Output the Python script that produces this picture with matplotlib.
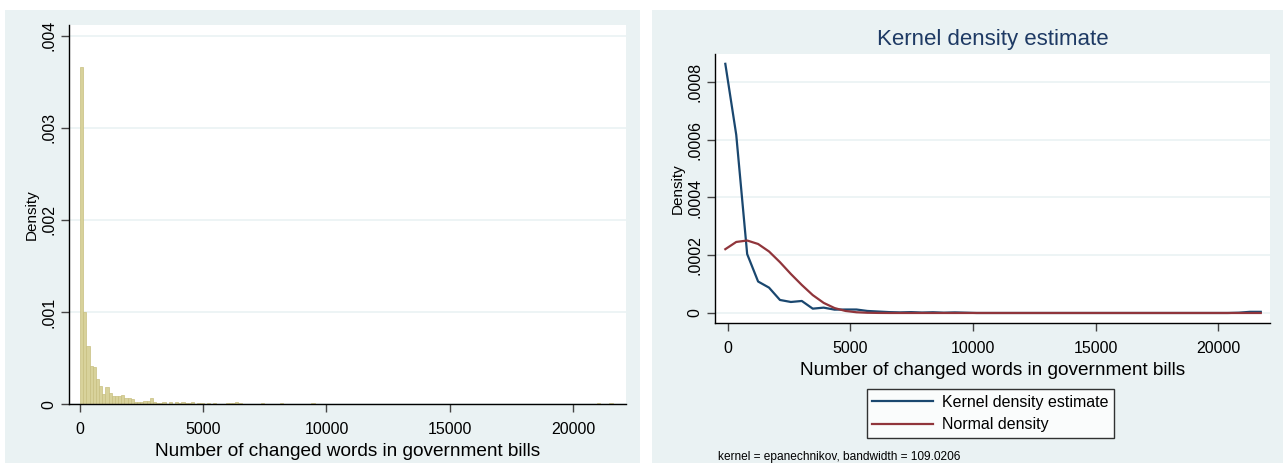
import numpy as np
import matplotlib
matplotlib.use("Agg")
import matplotlib.pyplot as plt
from matplotlib.patches import Rectangle
from matplotlib.lines import Line2D

plt.rcParams['font.family'] = ['Liberation Sans', 'DejaVu Sans']

# histogram: 169 bins of ~128.6 words starting at 0
bin_width = 128.6
n_bins = 169
# heights of the first 52 bins
hist_head = [.003664, .001000, .000635, .000418, .000410, .000273, .000200,
             .000117, .000193, .000128, .000085, .000092, .000092, .000103,
             .000067, .000067, .000056, .000020, .000027, .000030, .000035,
             .000040, .000070, .000030, .000013, .000010, .000025, .000008,
             .000022, .000008, .000022, .000012, .000022, .000015, .000010,
             .000020, .000008, .000012, .000012, .000005, .000015, .000008,
             .000010, .000008, .000005, .000000, .000012, .000010, .000012,
             .000030, .000010, .000000]
# sparse outliers further out
tail_bins = [57, 63, 73, 163, 167]
tail_heights = [.000010, .000010, .000010, .000010, .000010]

# kernel density estimate, 50 evaluation points
kde_lo, kde_hi, kde_n = -109, 21745, 50
kde_vals = [.000863, .000617, .000204, .000109, .0000878, .0000451, .0000381,
            .0000416, .0000150, .0000185, .0000116, .0000120, .0000120,
            .0000070, .0000050, .0000030, .0000020, .0000030, .0000015,
            .0000025, .0000010, .0000020, .0000010, 0, 0, 0, 0, 0, 0, 0, 0,
            0, 0, 0, 0, 0, 0, 0, 0, 0, 0, 0, 0, 0, 0, 0, 0,
            .0000010, .0000040, .0000040]
normal_vals = [.000221, .000246, .000251, .000239, .000213, .000176, .000135,
               .000097, .000062, .000035, .000017, .0000070, .0000025,
               .0000008, .0000002, 0, 0, 0, 0, 0, 0, 0, 0, 0, 0, 0, 0, 0, 0,
               0, 0, 0, 0, 0, 0, 0, 0, 0, 0, 0, 0, 0, 0, 0, 0, 0, 0, 0, 0, 0]

x_ticks = [0, 5000, 10000, 15000, 20000]
hist_yticks = [0, .001, .002, .003, .004]
hist_ylabels = ['0', '.001', '.002', '.003', '.004']
kde_yticks = [0, .0002, .0004, .0006, .0008]
kde_ylabels = ['0', '.0002', '.0004', '.0006', '.0008']

xlab = 'Number of changed words in government bills'

W, H = 1283, 463
bg = '#eaf2f3'
navy = '#1a476f'
maroon = '#90353b'

heights = np.zeros(n_bins)
heights[:len(hist_head)] = hist_head
heights[tail_bins] = tail_heights
lefts = np.arange(n_bins) * bin_width
kde_x = np.linspace(kde_lo, kde_hi, kde_n)

fig = plt.figure(figsize=(W / 100, H / 100), dpi=100)
fig.patch.set_facecolor('white')


def px_rect(x0, y0, x1, y1):
    # rectangle given in pixel coords measured from the top left
    return Rectangle((x0 / W, 1 - y1 / H), (x1 - x0) / W, (y1 - y0) / H,
                     transform=fig.transFigure, facecolor=bg,
                     edgecolor='none', zorder=-10)


fig.patches.append(px_rect(5, 10, 640, 463))
fig.patches.append(px_rect(652, 10, 1283, 463))


def style(ax):
    for s in ['top', 'right']:
        ax.spines[s].set_visible(False)
    for s in ['left', 'bottom']:
        ax.spines[s].set_linewidth(1.0)
    ax.set_facecolor('white')
    ax.tick_params(axis='both', direction='out', length=6, width=1,
                   color='#444444', labelsize=11.5)
    ax.tick_params(axis='x', pad=7)
    ax.tick_params(axis='y', labelrotation=90, pad=3)
    for t in ax.get_yticklabels():
        t.set_va('center')
    ax.grid(axis='y', color=bg, linewidth=1.2)
    ax.set_axisbelow(True)


# left: histogram
ax1 = fig.add_axes([68.9 / W, 1 - 404.3 / H, (625.8 - 68.9) / W, (404.3 - 25) / H])
ax1.bar(lefts, heights, width=bin_width, align='edge', color='#d8d29b',
        edgecolor='#c8bf80', linewidth=0.5)
ax1.set_xlim(-450, 22142)
ax1.set_ylim(0, .004116)
ax1.set_xticks(x_ticks)
ax1.set_yticks(hist_yticks)
ax1.set_yticklabels(hist_ylabels)
style(ax1)
ax1.set_xlabel(xlab, fontsize=13.7, labelpad=4)
ax1.set_ylabel('Density', fontsize=11, labelpad=2)

# right: kernel density
ax2 = fig.add_axes([715 / W, 1 - 323 / H, 555 / W, 269 / H])
ax2.plot(kde_x, kde_vals, color=navy, linewidth=1.6)
ax2.plot(kde_x, normal_vals, color=maroon, linewidth=1.6)
ax2.set_xlim(-530, 22122)
ax2.set_ylim(-.0000347, .000897)
ax2.set_xticks(x_ticks)
ax2.set_yticks(kde_yticks)
ax2.set_yticklabels(kde_ylabels)
style(ax2)
ax2.set_xlabel(xlab, fontsize=13.7, labelpad=4)
ax2.set_ylabel('Density', fontsize=11, labelpad=2)
fig.text(993 / W, 1 - 40 / H, 'Kernel density estimate', fontsize=16,
         color='#1e3a64', ha='center', va='center')

handles = [Line2D([], [], color=navy, linewidth=1.6),
           Line2D([], [], color=maroon, linewidth=1.6)]
leg = fig.legend(handles, ['Kernel density estimate', 'Normal density'],
                 loc='center', bbox_to_anchor=(990.5 / W, 1 - 413.5 / H),
                 fontsize=11.5, frameon=True, fancybox=False,
                 handlelength=3.8, labelspacing=0.45, borderpad=0.35,
                 handletextpad=0.6, borderaxespad=0)
leg.get_frame().set_edgecolor('black')
leg.get_frame().set_linewidth(1.0)

fig.text(718 / W, 1 - 457 / H, 'kernel = epanechnikov, bandwidth = 109.0206',
         fontsize=8.6, ha='left', va='center')

fig.savefig('out.png', dpi=100)
